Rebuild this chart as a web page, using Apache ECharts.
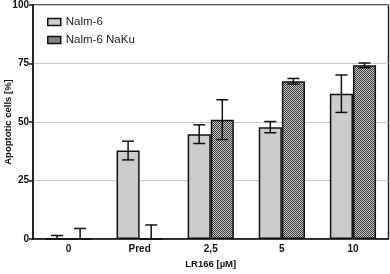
<!DOCTYPE html>
<html><head><meta charset="utf-8">
<script src="https://cdn.jsdelivr.net/npm/echarts@6/dist/echarts.min.js"></script>
<style>html,body{margin:0;padding:0;background:#fff}#c{width:390px;height:274px}</style>
</head><body><div id="c"></div>
<script>
const categories = ['0', 'Pred', '2,5', '5', '10'];
const nalm6 = [0, 37.8, 44.8, 47.8, 62.1];
const nalm6Err = [1.5, 4, 4, 2.4, 8];
const naku = [0, 0, 51, 67.4, 74.2];
const nakuErr = [4.5, 6, 8.5, 1.2, 1];
const yTicks = [0, 25, 50, 75, 100];

const pc = document.createElement('canvas');
pc.width = 2; pc.height = 2;
const g = pc.getContext('2d');
g.fillStyle = '#c8c8c8'; g.fillRect(0,0,2,2);
g.fillStyle = '#3a3a3a'; g.fillRect(0,0,1,1); g.fillRect(1,1,1,1);
const pattern = {image: pc, repeat: 'repeat'};

const chart = echarts.init(document.getElementById('c'), null, {renderer:'canvas'});
const font = 'Liberation Sans, Arial, sans-serif';

function errSeries(vals, errs, idx) {
  return {
    type: 'custom', z: 5, clip: true, silent: true,
    data: vals.map((v,i)=>[i, v, errs[i]]),
    renderItem: function(params, api) {
      const i = api.value(0), v = api.value(1), e = api.value(2);
      const c = api.coord([i, v]);
      const bw = api.size([1,0])[0] * 0.65 / 2;
      const x = c[0] + (idx === 0 ? -bw/2 : bw/2);
      const top = api.coord([i, v + e])[1];
      const bot = api.coord([i, v - e])[1];
      const cw = 6;
      const st = {stroke:'#111', lineWidth:1.5};
      return {type:'group', children:[
        {type:'line', shape:{x1:x,y1:top,x2:x,y2:bot}, style:st},
        {type:'line', shape:{x1:x-cw,y1:top,x2:x+cw,y2:top}, style:st},
        {type:'line', shape:{x1:x-cw,y1:bot,x2:x+cw,y2:bot}, style:st}
      ]};
    }
  };
}

chart.setOption({
  animation: false,
  grid: {left: 33, right: 1.5, top: 5, bottom: 35, containLabel: false, outerBoundsMode: 'none',
         show: true, borderColor: '#222', borderWidth: 1.5, backgroundColor: 'transparent'},
  legend: {
    left: 47, top: 16, padding: 0, orient: 'vertical', icon: 'rect', itemWidth: 13, itemHeight: 7, itemGap: 6, itemTextGap: 7,
    textStyle: {fontFamily: font, fontSize: 11.5, color: '#222'},
    data: [
      {name: 'Nalm-6', itemStyle: {color: '#cccccc', borderColor: '#111', borderWidth: 1.5}},
      {name: 'Nalm-6 NaKu', itemStyle: {color: pattern, borderColor: '#111', borderWidth: 1.5}}
    ]
  },
  xAxis: {
    type: 'category', data: categories,
    name: 'LR166 [µM]', nameLocation: 'middle', nameGap: 20, nameMoveOverlap: false,
    nameTextStyle: {fontFamily: font, fontSize: 9.5, fontWeight: 'bold', color: '#111', verticalAlign: 'top'},
    axisLine: {lineStyle: {color: '#111', width: 1.5}},
    axisTick: {alignWithLabel: true, length: 4, lineStyle: {color: '#111', width: 1.5}},
    axisLabel: {fontFamily: font, fontSize: 10, fontWeight: 'bold', color: '#111', margin: 5}
  },
  yAxis: {
    type: 'value', min: 0, max: 100, interval: 25,
    name: 'Apoptotic cells [%]', nameLocation: 'middle', nameGap: 20, nameMoveOverlap: false,
    nameTextStyle: {fontFamily: font, fontSize: 9.5, fontWeight: 'bold', color: '#111'},
    axisLine: {show: true, lineStyle: {color: '#111', width: 1.5}},
    axisTick: {show: true, length: 4, lineStyle: {color: '#111', width: 1.5}},
    axisLabel: {fontFamily: font, fontSize: 10, fontWeight: 'bold', color: '#111', margin: 4,
      formatter: v => yTicks.includes(v) ? String(v) : ''},
    splitLine: {show: true, lineStyle: {color: '#c8c8c8', width: 1}}
  },
  series: [
    {name: 'Nalm-6', type: 'bar', data: nalm6, barGap: '0%', barWidth: '32.5%',
     itemStyle: {color: '#cccccc', borderColor: '#111', borderWidth: 1.5}},
    {name: 'Nalm-6 NaKu', type: 'bar', data: naku, barGap: '0%', barWidth: '32.5%',
     itemStyle: {color: pattern, borderColor: '#111', borderWidth: 1.5}},
    errSeries(nalm6, nalm6Err, 0),
    errSeries(naku, nakuErr, 1)
  ]
});
</script></body></html>
